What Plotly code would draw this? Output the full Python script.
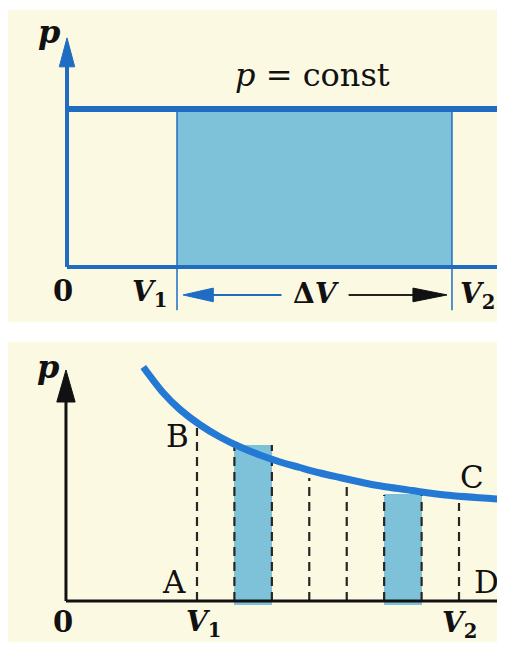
import plotly.graph_objects as go

# ---------------- data ----------------
# top panel (isobaric process)
top_V = [2.0, 7.0]          # V1, V2
top_p_const = 3.0
top_axis_x_end = 7.964
top_axis_y_tip = 4.35

# bottom panel (general curve)
curve_V = [1.18, 1.48, 1.74, 2.05, 2.35, 2.66, 2.96, 3.27, 3.57, 3.88, 4.18, 4.49, 4.76, 5.28, 5.79, 6.60]
curve_p = [4.68, 4.17, 3.83, 3.52, 3.28, 3.08, 2.92, 2.78, 2.67, 2.56, 2.47, 2.38, 2.31, 2.21, 2.12, 2.04]
dash_V = [2.0, 2.571, 3.143, 3.714, 4.286, 4.857, 5.429, 6.0]
dash_top = [3.46, 3.10, 3.12, 2.46, 2.28, 2.12, 2.12, 1.96]
strip_left = [2.571, 4.857]
strip_right = [3.143, 5.429]
strip_top = [3.12, 2.14]
bot_axis_x_end = 6.70
bot_axis_y_tip = 4.62

# ---------------- style ----------------
CREAM = "#fcf9e2"
BLUE = "#1f6cc2"
CURVE = "#2479d4"
SHADE = "#7ec2da"
FONT = "DejaVu Serif"

fig = go.Figure()


def arrow_poly(tip_x, tip_y, dx, dy, length, half):
    # triangle with tip at (tip_x, tip_y) pointing in (dx, dy)
    bx, by = tip_x - dx * length, tip_y - dy * length
    px, py = -dy, dx
    xs = [tip_x, bx + px * half, bx - px * half, tip_x]
    ys = [tip_y, by + py * half, by - py * half, tip_y]
    return xs, ys


# ---------- top panel ----------
fig.add_trace(go.Bar(x=[(top_V[0] + top_V[1]) / 2], y=[top_p_const], base=0,
                     width=[top_V[1] - top_V[0]], marker=dict(color=SHADE, line_width=0),
                     xaxis="x", yaxis="y", hoverinfo="skip"))
fig.add_trace(go.Scatter(x=[top_V[0], top_V[0], None, top_V[1], top_V[1]],
                         y=[top_p_const, -0.82, None, top_p_const, -0.82],
                         mode="lines", line=dict(color=BLUE, width=1.5),
                         xaxis="x", yaxis="y", hoverinfo="skip"))
fig.add_trace(go.Scatter(x=[0, top_axis_x_end], y=[top_p_const, top_p_const], mode="lines",
                         line=dict(color=BLUE, width=6), xaxis="x", yaxis="y", hoverinfo="skip"))
fig.add_trace(go.Scatter(x=[0, top_axis_x_end], y=[0, 0], mode="lines",
                         line=dict(color=BLUE, width=4), xaxis="x", yaxis="y", hoverinfo="skip"))
fig.add_trace(go.Scatter(x=[0, 0], y=[0, top_axis_y_tip - 0.4], mode="lines",
                         line=dict(color=BLUE, width=4), xaxis="x", yaxis="y", hoverinfo="skip"))
ax_, ay_ = arrow_poly(0, top_axis_y_tip, 0, 1, 0.55, 0.14)
fig.add_trace(go.Scatter(x=ax_, y=ay_, mode="lines", fill="toself", fillcolor=BLUE,
                         line=dict(color=BLUE, width=1), xaxis="x", yaxis="y", hoverinfo="skip"))
dv_y = -0.53
fig.add_trace(go.Scatter(x=[3.9, 2.5], y=[dv_y, dv_y], mode="lines",
                         line=dict(color=BLUE, width=2), xaxis="x", yaxis="y", hoverinfo="skip"))
ax_, ay_ = arrow_poly(2.11, dv_y, -1, 0, 0.55, 0.13)
fig.add_trace(go.Scatter(x=ax_, y=ay_, mode="lines", fill="toself", fillcolor=BLUE,
                         line=dict(color=BLUE, width=1), xaxis="x", yaxis="y", hoverinfo="skip"))
fig.add_trace(go.Scatter(x=[5.12, 6.5], y=[dv_y, dv_y], mode="lines",
                         line=dict(color="#222", width=2), xaxis="x", yaxis="y", hoverinfo="skip"))
ax_, ay_ = arrow_poly(6.91, dv_y, 1, 0, 0.62, 0.13)
fig.add_trace(go.Scatter(x=ax_, y=ay_, mode="lines", fill="toself", fillcolor="#111",
                         line=dict(color="#111", width=1), xaxis="x", yaxis="y", hoverinfo="skip"))

# ---------- bottom panel ----------
fig.add_trace(go.Bar(x=[(l + r) / 2 for l, r in zip(strip_left, strip_right)],
                     y=[t + 0.08 for t in strip_top], base=-0.08,
                     width=[r - l for l, r in zip(strip_left, strip_right)],
                     marker=dict(color=SHADE, line_width=0),
                     xaxis="x2", yaxis="y2", hoverinfo="skip"))
dx, dy = [], []
for v, t in zip(dash_V, dash_top):
    dx += [v, v, None]
    dy += [0, t, None]
fig.add_trace(go.Scatter(x=dx, y=dy, mode="lines",
                         line=dict(color="#262626", width=2.2, dash="9px,6px"),
                         xaxis="x2", yaxis="y2", hoverinfo="skip"))
fig.add_trace(go.Scatter(x=[0, bot_axis_x_end], y=[0, 0], mode="lines",
                         line=dict(color="#111", width=3), xaxis="x2", yaxis="y2", hoverinfo="skip"))
fig.add_trace(go.Scatter(x=[0, 0], y=[0, bot_axis_y_tip - 0.4], mode="lines",
                         line=dict(color="#111", width=3), xaxis="x2", yaxis="y2", hoverinfo="skip"))
ax_, ay_ = arrow_poly(0, bot_axis_y_tip, 0, 1, 0.64, 0.14)
fig.add_trace(go.Scatter(x=ax_, y=ay_, mode="lines", fill="toself", fillcolor="#111",
                         line=dict(color="#111", width=1), xaxis="x2", yaxis="y2", hoverinfo="skip"))
fig.add_trace(go.Scatter(x=curve_V, y=curve_p, mode="lines",
                         line=dict(color=CURVE, width=7, shape="spline", smoothing=0.8),
                         xaxis="x2", yaxis="y2", hoverinfo="skip"))


# ---------- text ----------
def label(x, y, text, size, xref="x", yref="y", color="#111"):
    fig.add_annotation(x=x, y=y, xref=xref, yref=yref, text=text, showarrow=False,
                       font=dict(family=FONT, size=size, color=color),
                       xanchor="center", yanchor="middle")


label(-0.33, 4.46, "<b><i>p</i></b>", 32)
label(4.47, 3.64, "<i>p</i> = const", 32)
label(-0.07, -0.46, "<b>0</b>", 29)
label(1.5, -0.5, "<b><i>V</i></b><sub><b>1</b></sub>", 28)
label(7.47, -0.54, "<b><i>V</i></b><sub><b>2</b></sub>", 28)
label(4.53, -0.5, "<b>Δ<i>V</i></b>", 28)

label(-0.28, 4.68, "<b><i>p</i></b>", 32, "x2", "y2")
label(1.7, 3.3, "B", 31, "x2", "y2")
label(1.65, 0.38, "A", 31, "x2", "y2")
label(6.2, 2.48, "C", 31, "x2", "y2")
label(6.42, 0.38, "D", 31, "x2", "y2")
label(-0.05, -0.42, "<b>0</b>", 29, "x2", "y2")
label(2.1, -0.44, "<b><i>V</i></b><sub><b>1</b></sub>", 28, "x2", "y2")
label(6.0, -0.46, "<b><i>V</i></b><sub><b>2</b></sub>", 28, "x2", "y2")

# page body has an 8px margin, so the figure is 8px smaller and shifted accordingly
ax_common = dict(visible=False, fixedrange=True)
W, H = 497, 634
fig.update_layout(
    width=W, height=H, autosize=False,
    margin=dict(l=0, r=0, t=0, b=0),
    paper_bgcolor="white", plot_bgcolor=CREAM,
    showlegend=False, barmode="overlay", bargap=0,
    xaxis=dict(domain=[0, 1], range=[-1.073, 7.964], anchor="y", **ax_common),
    yaxis=dict(domain=[1 - 314 / H, 1 - 2 / H], range=[-1.044, 4.879], anchor="x", **ax_common),
    xaxis2=dict(domain=[0, 1], range=[-0.885, 6.702], anchor="y2", **ax_common),
    yaxis2=dict(domain=[0, 1 - 334 / H], range=[-0.82, 5.18], anchor="x2", **ax_common),
)

fig.write_html("out.html")
